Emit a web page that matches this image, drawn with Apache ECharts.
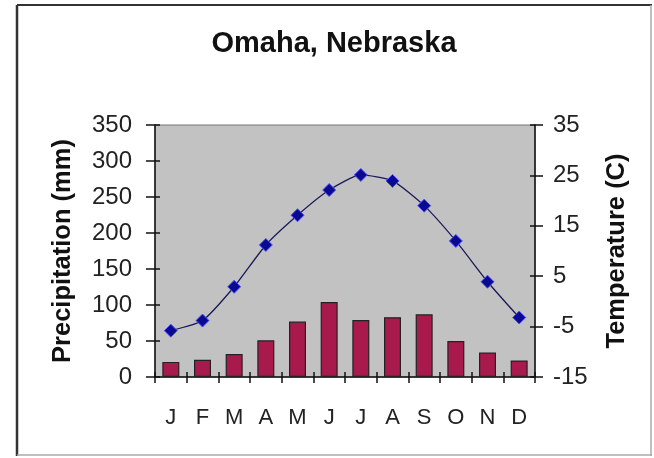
<!DOCTYPE html>
<html><head><meta charset="utf-8">
<script src="https://cdn.jsdelivr.net/npm/echarts@6/dist/echarts.min.js"></script>
<style>html,body{margin:0;padding:0;background:#fff}#c{width:654px;height:458px}</style>
</head><body><div id="c"></div>
<script>
var months = ['J','F','M','A','M','J','J','A','S','O','N','D'];
var precipitation = [21, 24, 32, 51, 77, 104, 79, 83, 87, 50, 34, 23];
var temperature = [-5.8, -3.8, 2.9, 11.2, 17.1, 22.1, 25.1, 23.9, 19.0, 12.0, 3.9, -3.2];
var titleText = 'Omaha, Nebraska';
var leftTitle = 'Precipitation (mm)';
var rightTitle = 'Temperature (C)';

var FONT = 'Liberation Sans, Arial, sans-serif';
var chart = echarts.init(document.getElementById('c'), null, {renderer:'canvas'});
function lab(m, s){ return {color:'#222', fontFamily:FONT, fontSize:s, margin:m}; }
var tickStyle = {color:'#111', width:1.5};
var hiddenLine = {show:true, onZero:false, lineStyle:{color:'rgba(0,0,0,0)', width:0}};
chart.setOption({
  animation:false,
  backgroundColor:'#fff',
  grid:{left:155, top:125, right:119, bottom:81, show:true, backgroundColor:'#c2c2c2', borderColor:'#777', borderWidth:1},
  xAxis:[
    {type:'category', data:months, position:'bottom',
      axisLine:{onZero:false, lineStyle:{color:'#111', width:1.5}},
      axisTick:{show:true, length:6, lineStyle:tickStyle},
      axisLabel:lab(30, 22), splitLine:{show:false}},
    {type:'category', data:months, position:'bottom',
      axisLine:hiddenLine, axisLabel:{show:false},
      axisTick:{show:true, inside:true, length:5, lineStyle:tickStyle}}
  ],
  yAxis:[
    {type:'value', min:0, max:350, interval:50, position:'left',
      axisLine:{show:true, onZero:false, lineStyle:{color:'#111', width:1.5}},
      axisTick:{show:true, length:9, lineStyle:tickStyle},
      axisLabel:lab(23, 24), splitLine:{show:false},
      name:leftTitle, nameLocation:'middle', nameGap:79, nameRotate:90,
      nameTextStyle:{fontFamily:FONT, fontSize:25.5, fontWeight:'bold', color:'#111'}},
    {type:'value', min:-15, max:35, interval:10, position:'right',
      axisLine:{show:true, onZero:false, lineStyle:{color:'#111', width:1.5}},
      axisTick:{show:true, length:8, lineStyle:tickStyle},
      axisLabel:lab(18, 24), splitLine:{show:false},
      name:rightTitle, nameLocation:'middle', nameGap:69, nameRotate:90,
      nameTextStyle:{fontFamily:FONT, fontSize:25.5, fontWeight:'bold', color:'#111'}},
    {type:'value', min:0, max:350, interval:50, position:'left',
      axisLine:hiddenLine, axisLabel:{show:false}, splitLine:{show:false},
      axisTick:{show:true, inside:true, length:5, lineStyle:tickStyle}},
    {type:'value', min:-15, max:35, interval:10, position:'right',
      axisLine:hiddenLine, axisLabel:{show:false}, splitLine:{show:false},
      axisTick:{show:true, inside:true, length:5, lineStyle:tickStyle}}
  ],
  series:[
    {type:'bar', data:precipitation, xAxisIndex:0, yAxisIndex:0, barWidth:17,
      itemStyle:{color:'#a8194c', borderColor:'#222', borderWidth:1.2}},
    {type:'line', data:temperature, xAxisIndex:0, yAxisIndex:1,
      symbol:'diamond', symbolSize:13, smooth:0.2,
      lineStyle:{color:'#1a1a5a', width:1.3},
      itemStyle:{color:'#0a0a90', borderColor:'#5050ff', borderWidth:1}},
    {type:'line', data:[], xAxisIndex:1, yAxisIndex:2, silent:true},
    {type:'line', data:[], xAxisIndex:1, yAxisIndex:3, silent:true}
  ],
  graphic:[
    {type:'text', x:334, y:29, style:{text:titleText, textAlign:'center',
      font:'bold 29px ' + FONT, fill:'#111'}},
    {type:'line', shape:{x1:17, y1:5, x2:17, y2:456}, style:{stroke:'#333', lineWidth:2.5}},
    {type:'line', shape:{x1:17, y1:5, x2:652, y2:5}, style:{stroke:'#333', lineWidth:2}},
    {type:'line', shape:{x1:651, y1:5, x2:651, y2:456}, style:{stroke:'#aaa', lineWidth:1.5}},
    {type:'line', shape:{x1:17, y1:455, x2:652, y2:455}, style:{stroke:'#aaa', lineWidth:1.5}}
  ]
});
</script></body></html>
